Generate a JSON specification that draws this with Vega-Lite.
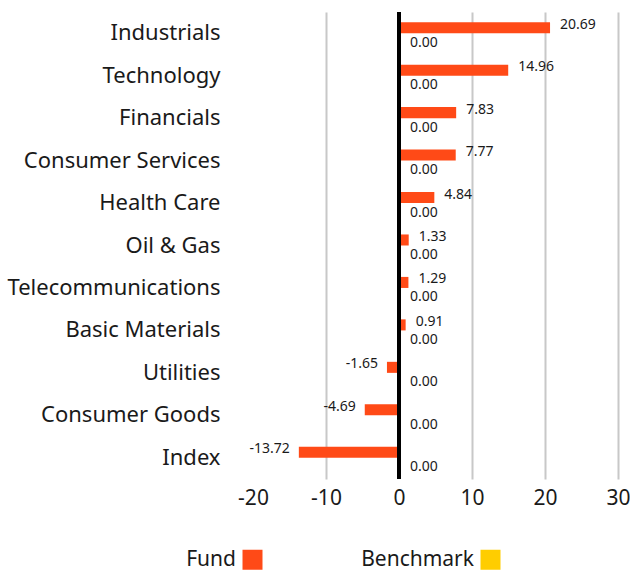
{
  "$schema": "https://vega.github.io/schema/vega-lite/v6.json",
  "width": 365,
  "height": 467,
  "autosize": "none",
  "padding": {"left": 253, "top": 12, "right": 12, "bottom": 94},
  "config": {
    "view": {"stroke": null},
    "font": "Noto Sans",
    "text": {"font": "Noto Sans"}
  },
  "data": {
    "values": [
      {"category": "Industrials", "series": "Fund", "value": 20.69},
      {"category": "Industrials", "series": "Benchmark", "value": 0},
      {"category": "Technology", "series": "Fund", "value": 14.96},
      {"category": "Technology", "series": "Benchmark", "value": 0},
      {"category": "Financials", "series": "Fund", "value": 7.83},
      {"category": "Financials", "series": "Benchmark", "value": 0},
      {"category": "Consumer Services", "series": "Fund", "value": 7.77},
      {"category": "Consumer Services", "series": "Benchmark", "value": 0},
      {"category": "Health Care", "series": "Fund", "value": 4.84},
      {"category": "Health Care", "series": "Benchmark", "value": 0},
      {"category": "Oil & Gas", "series": "Fund", "value": 1.33},
      {"category": "Oil & Gas", "series": "Benchmark", "value": 0},
      {"category": "Telecommunications", "series": "Fund", "value": 1.29},
      {"category": "Telecommunications", "series": "Benchmark", "value": 0},
      {"category": "Basic Materials", "series": "Fund", "value": 0.91},
      {"category": "Basic Materials", "series": "Benchmark", "value": 0},
      {"category": "Utilities", "series": "Fund", "value": -1.65},
      {"category": "Utilities", "series": "Benchmark", "value": 0},
      {"category": "Consumer Goods", "series": "Fund", "value": -4.69},
      {"category": "Consumer Goods", "series": "Benchmark", "value": 0},
      {"category": "Index", "series": "Fund", "value": -13.72},
      {"category": "Index", "series": "Benchmark", "value": 0}
    ]
  },
  "transform": [
    {"calculate": "replace(format(datum.value, '.2f'), '\u2212', '-')", "as": "label"}
  ],
  "layer": [
    {
      "mark": {"type": "bar"},
      "encoding": {
        "y": {
          "field": "category",
          "type": "nominal",
          "sort": null,
          "scale": {"paddingInner": 0.48, "paddingOuter": 0.24},
          "axis": {
            "title": null,
            "domain": false,
            "ticks": false,
            "labelFontSize": 22,
            "labelColor": "#1a1a1a",
            "labelPadding": 33,
            "labelLimit": 300
          }
        },
        "yOffset": {
          "field": "series",
          "type": "nominal",
          "sort": ["Fund", "Benchmark"],
          "scale": {"paddingInner": 0, "paddingOuter": 0}
        },
        "x": {
          "field": "value",
          "type": "quantitative",
          "scale": {"domain": [-20, 30], "nice": false},
          "axis": {
            "title": null,
            "values": [-20, -10, 0, 10, 20, 30],
            "labelExpr": "replace(datum.label, '\u2212', '-')",
            "labelFlush": false,
            "labelOverlap": false,
            "domain": false,
            "ticks": false,
            "labelFontSize": 21,
            "labelColor": "#1a1a1a",
            "labelPadding": 8,
            "grid": true,
            "gridColor": "#c8c8c8",
            "gridWidth": 2,
            "gridOpacity": {"condition": {"test": "datum.value == -20 || datum.value == 0", "value": 0}, "value": 1}
          }
        },
        "color": {
          "field": "series",
          "type": "nominal",
          "scale": {"domain": ["Fund", "Benchmark"], "range": ["#FF4A17", "#FFCD00"]},
          "legend": {
            "title": null,
            "orient": "none",
            "legendX": -11,
            "legendY": 537,
            "direction": "horizontal",
            "symbolType": "square",
            "symbolSize": 400,
            "symbolStrokeWidth": 0,
            "symbolOpacity": 1,
            "labelFontSize": 21,
            "labelColor": "#1a1a1a",
            "labelAlign": "right",
            "labelOffset": -27,
            "columnPadding": 98
          }
        }
      }
    },
    {
      "mark": {"type": "rule", "color": "#000000", "strokeWidth": 4},
      "encoding": {"x": {"datum": 0, "type": "quantitative"}}
    },
    {
      "transform": [{"filter": "datum.series == 'Fund' && datum.value >= 0"}],
      "mark": {"type": "text", "align": "left", "baseline": "middle", "dx": 10, "dy": -3, "fontSize": 14, "color": "#1a1a1a"},
      "encoding": {
        "y": {"field": "category", "type": "nominal", "sort": null},
        "yOffset": {"field": "series", "type": "nominal", "sort": ["Fund", "Benchmark"]},
        "x": {"field": "value", "type": "quantitative"},
        "text": {"field": "label", "type": "nominal"}
      }
    },
    {
      "transform": [{"filter": "datum.series == 'Fund' && datum.value < 0"}],
      "mark": {"type": "text", "align": "right", "baseline": "middle", "dx": -9, "dy": -3, "fontSize": 14, "color": "#1a1a1a"},
      "encoding": {
        "y": {"field": "category", "type": "nominal", "sort": null},
        "yOffset": {"field": "series", "type": "nominal", "sort": ["Fund", "Benchmark"]},
        "x": {"field": "value", "type": "quantitative"},
        "text": {"field": "label", "type": "nominal"}
      }
    },
    {
      "transform": [{"filter": "datum.series == 'Benchmark'"}],
      "mark": {"type": "text", "align": "left", "baseline": "middle", "dx": 11, "dy": 4, "fontSize": 14, "color": "#1a1a1a"},
      "encoding": {
        "y": {"field": "category", "type": "nominal", "sort": null},
        "yOffset": {"field": "series", "type": "nominal", "sort": ["Fund", "Benchmark"]},
        "x": {"field": "value", "type": "quantitative"},
        "text": {"field": "label", "type": "nominal"}
      }
    }
  ]
}
